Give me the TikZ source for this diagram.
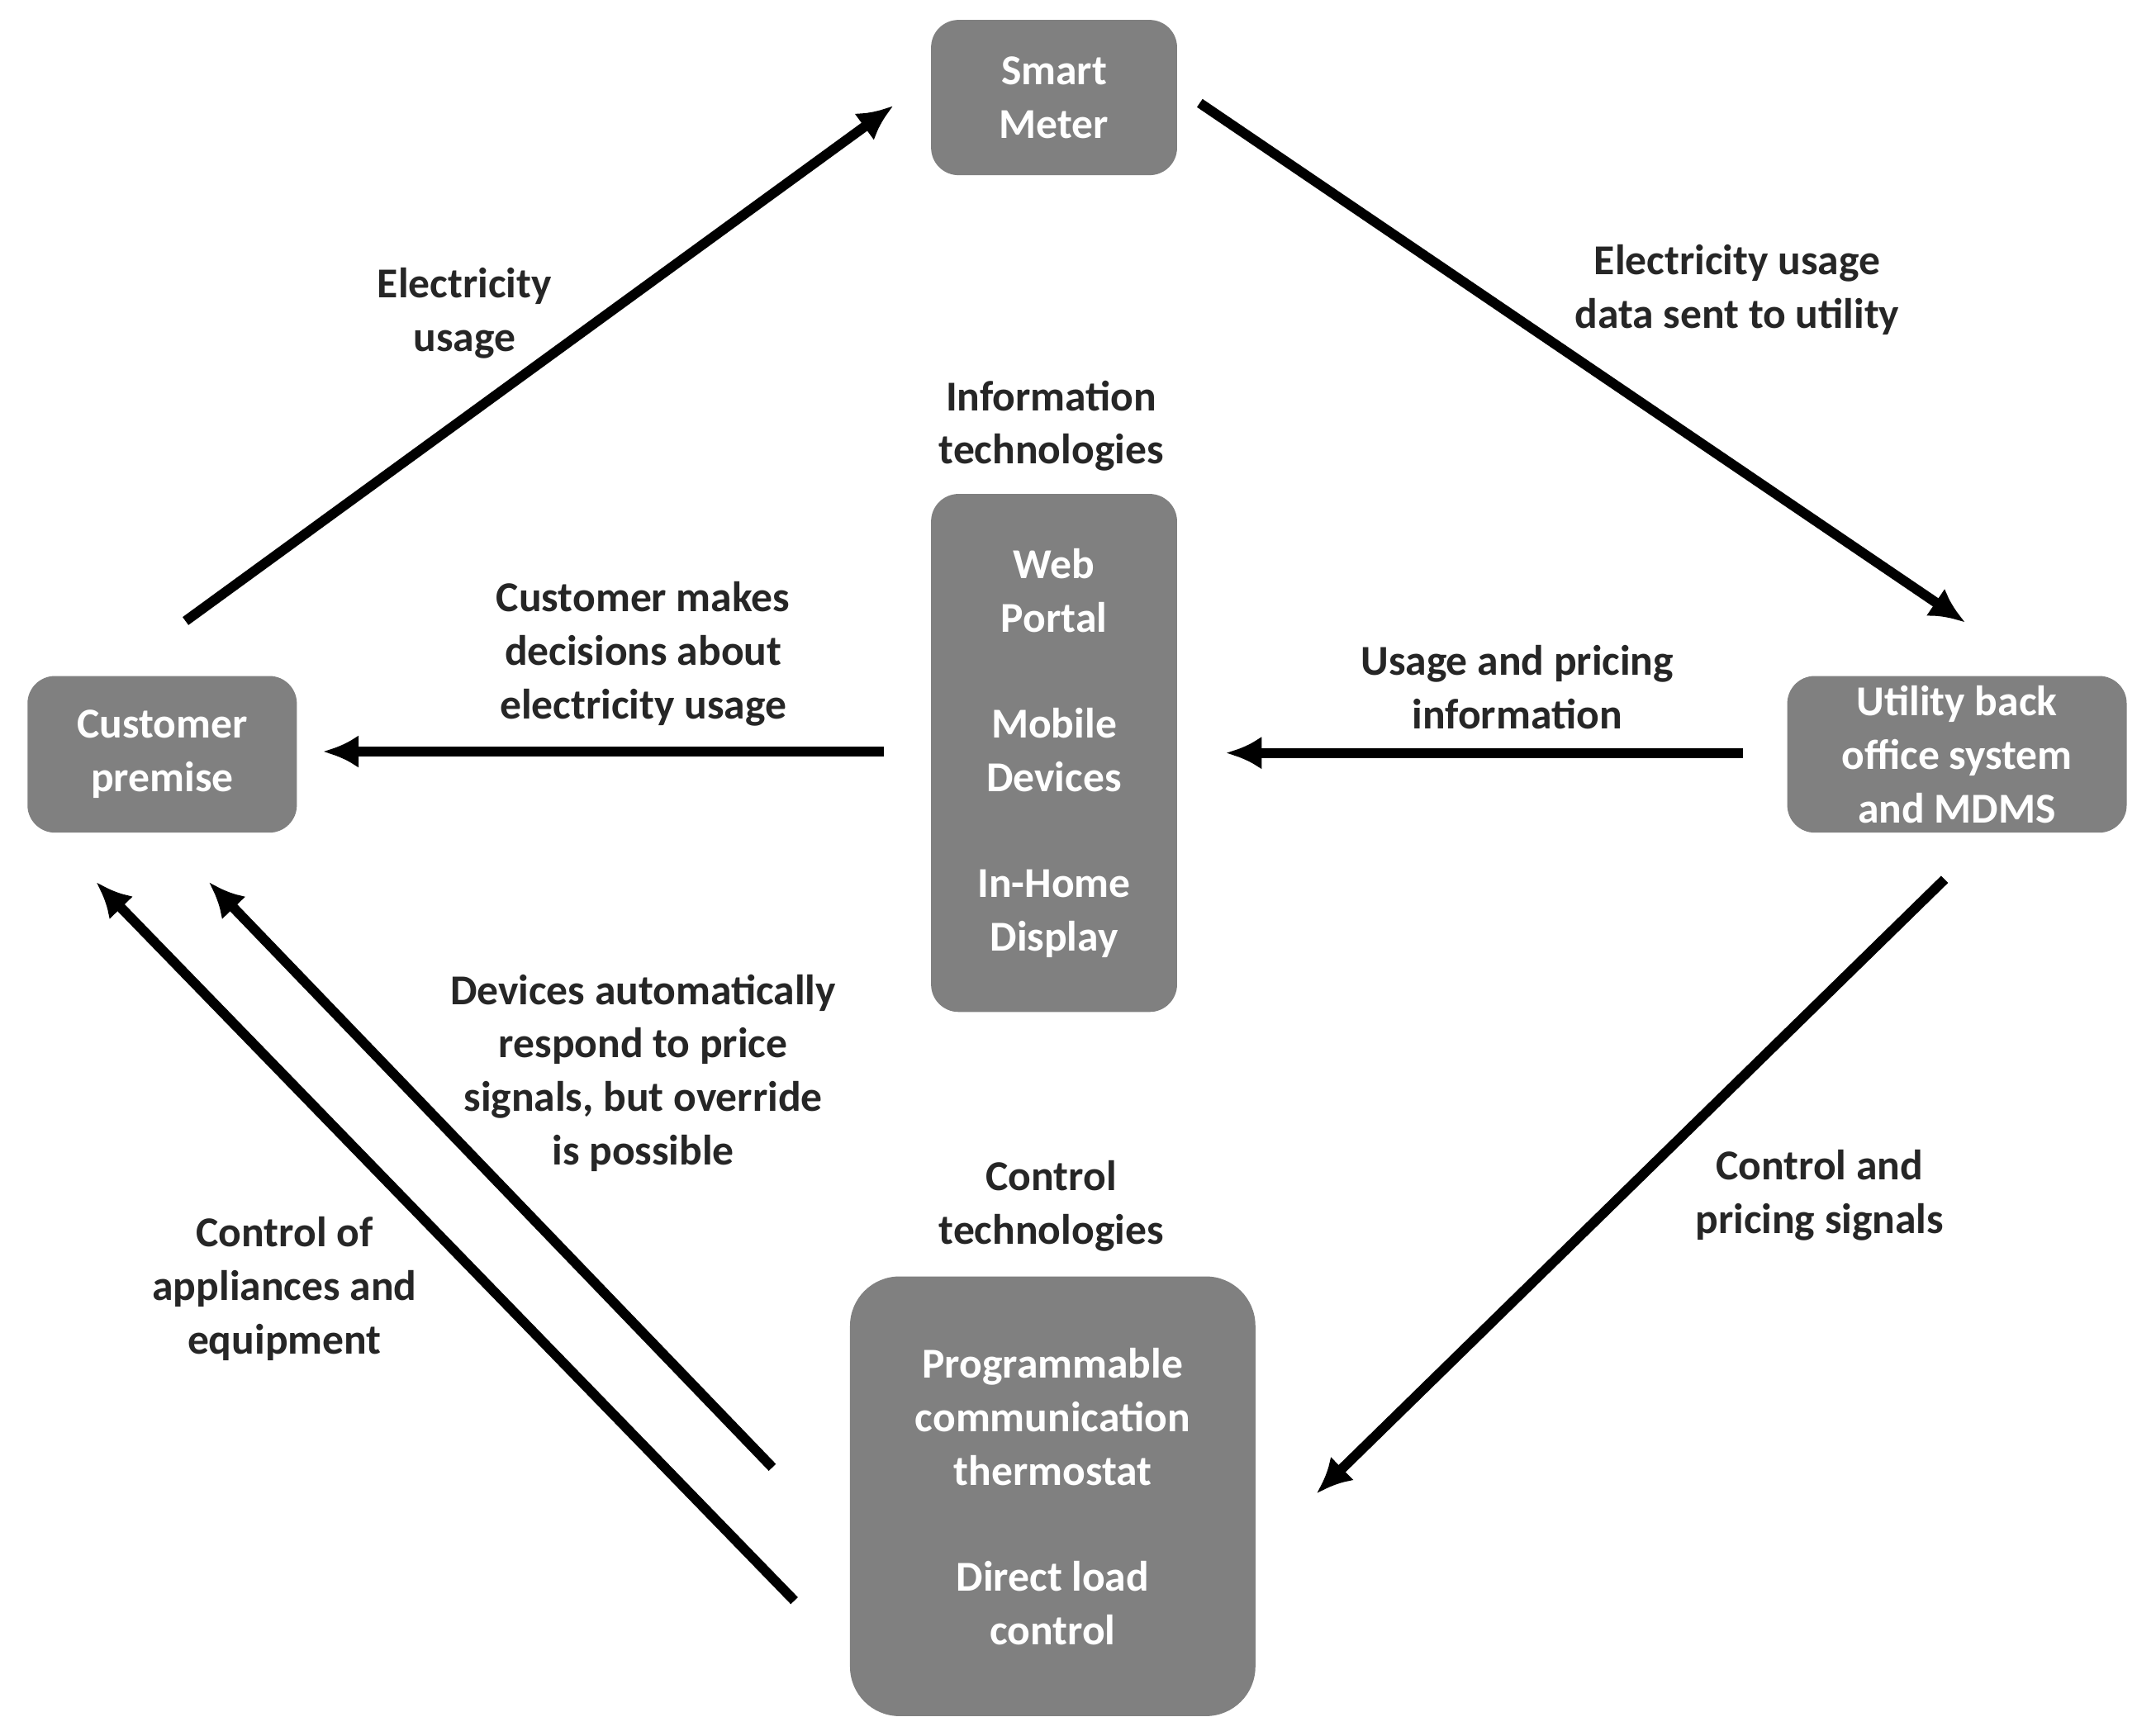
\documentclass[tikz,border=0pt]{standalone}
\usepackage{fontspec}
\setmainfont{Carlito}
\begin{document}
\begin{tikzpicture}[x=0.5pt,y=-0.5pt,
  box/.style={fill=black!50,rounded corners=10pt,text=white,font=\bfseries\fontsize{15.5}{19.5}\selectfont,align=center,inner sep=0pt},
  lab/.style={font=\bfseries\fontsize{15.5}{19.5}\selectfont,align=center,text=black!85},
  arr/.style={line width=3.6pt,-{Latex[length=13pt,width=12pt]}}]
\usetikzlibrary{arrows.meta}
\useasboundingbox (0,0) rectangle (1555,1263);
\node[box,minimum width=89.5pt,minimum height=56.5pt] (sm) at (767,71) {Smart\\Meter};
\node[box,minimum width=98pt,minimum height=57pt] (cp) at (118,549) {Customer\\premise};
\node[box,minimum width=123.5pt,minimum height=57pt] (ut) at (1424,549) {Utility back\\office system\\and MDMS};
\node[box,minimum width=89.5pt,minimum height=188.5pt] (it) at (767,548) {Web\\Portal\\[19pt]Mobile\\Devices\\[19pt]In-Home\\Display};
\node[box,minimum width=147.5pt,minimum height=160pt,rounded corners=18pt] (ct) at (766,1089) {Programmable\\communication\\thermostat\\[19pt]Direct load\\control};
\coordinate (a1) at (135,452); \coordinate (a2) at (650,77);
\coordinate (b1) at (873,75); \coordinate (b2) at (1430,453);
\coordinate (c1) at (643,547); \coordinate (c2) at (235,547);
\coordinate (d1) at (1268,548); \coordinate (d2) at (892,548);
\coordinate (e1) at (1415,640); \coordinate (e2) at (958,1087);
\coordinate (f1) at (562,1068); \coordinate (f2) at (152,642);
\coordinate (g1) at (578,1165); \coordinate (g2) at (70,642);
\draw[arr] (a1) -- (a2);
\draw[arr] (b1) -- (b2);
\draw[arr] (c1) -- (c2);
\draw[arr] (d1) -- (d2);
\draw[arr] (e1) -- (e2);
\draw[arr] (f1) -- (f2);
\draw[arr] (g1) -- (g2);
\node[lab] (l1) at (338,228) {Electricity\\usage};
\node[lab] (l2) at (1264,211) {Electricity usage\\data sent to utility};
\node[lab] (l3) at (765,310) {Information\\technologies};
\node[lab] (l4) at (468,476) {Customer makes\\decisions about\\electricity usage};
\node[lab] (l5) at (1104,500) {Usage and pricing\\information};
\node[lab] (l6) at (468,781) {Devices automatically\\respond to price\\signals, but override\\is possible};
\node[lab] (l7) at (765,878) {Control\\technologies};
\node[lab] (l8) at (1324,870) {Control and\\pricing signals};
\node[lab] (l9) at (207,938) {Control of\\appliances and\\equipment};
\end{tikzpicture}
\end{document}
